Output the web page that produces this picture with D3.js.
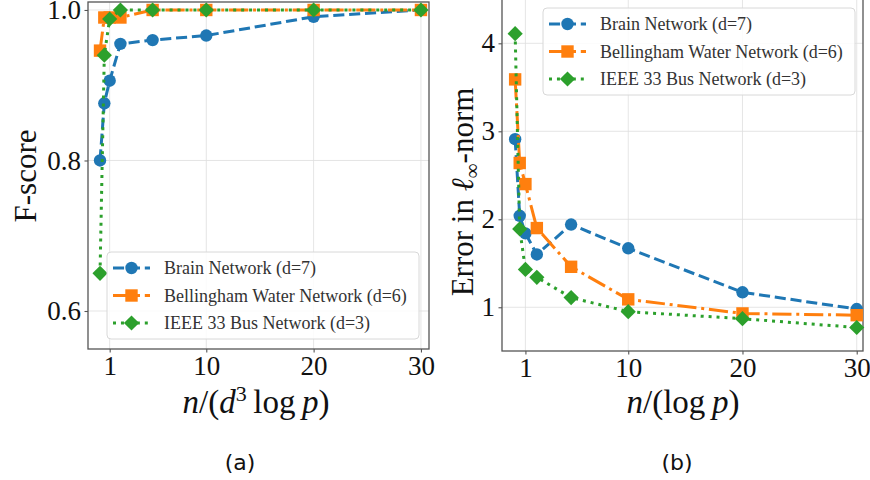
<!DOCTYPE html>
<html>
<head>
    <meta charset="utf-8" />
    <title>F-score and error panels</title>
    <style>
        body { margin: 0; background: #fff; overflow: hidden; }
    </style>
</head>
<body>
    <div id="chart"></div>
    <script src="https://d3js.org/d3.v7.min.js"></script>
    <script>
        // sample sizes (x axis) shared by both panels
        var xVals = [0.1, 0.5, 1, 2, 5, 10, 20, 30];
        var xTicks = [1, 10, 20, 30];

        // panel (a): F-score
        var fBrain = [0.80, 0.876, 0.906, 0.955, 0.96, 0.966, 0.991, 1.0];
        var fWater = [0.946, 0.99, 0.99, 0.99, 1.0, 1.0, 1.0, 1.0];
        var fBus = [0.65, 0.94, 0.988, 1.0, 1.0, 1.0, 1.0, 1.0];
        var fTicks = [0.6, 0.8, 1.0];

        // panel (b): error in l-infinity norm
        var eBrain = [2.91, 2.04, 1.84, 1.60, 1.94, 1.67, 1.17, 0.98];
        var eWater = [3.59, 2.64, 2.40, 1.90, 1.46, 1.09, 0.93, 0.91];
        var eBus = [4.11, 1.89, 1.43, 1.34, 1.11, 0.95, 0.87, 0.77];
        var eTicks = [1, 2, 3, 4];

        var seriesNames = ["Brain Network (d=7)", "Bellingham Water Network (d=6)", "IEEE 33 Bus Network (d=3)"];

        var styles = [
            { color: "#1f77b4", dash: "11.1,4.8", marker: "circle" },
            { color: "#ff7f0e", dash: "19.2,4.8,3,4.8", marker: "square" },
            { color: "#2ca02c", dash: "3,4.95", marker: "diamond" }
        ];

        var serif = "'Liberation Serif', 'Times New Roman', serif";

        var svg = d3.select("#chart").append("svg")
            .attr("width", 870)
            .attr("height", 480);

        function drawMarker(g, type, x, y, color) {
            if (type === "circle") {
                g.append("circle").attr("cx", x).attr("cy", y).attr("r", 6.2).attr("fill", color);
            } else if (type === "square") {
                g.append("rect").attr("x", x - 6.2).attr("y", y - 6.2)
                    .attr("width", 12.4).attr("height", 12.4).attr("fill", color);
            } else {
                var s = 7.6;
                g.append("path")
                    .attr("d", `M${x},${y - s}L${x + s},${y}L${x},${y + s}L${x - s},${y}Z`)
                    .attr("fill", color);
            }
        }

        function drawPanel(opt) {
            var x = d3.scaleLinear().domain(opt.xDomain).range([opt.left, opt.right]);
            var y = d3.scaleLinear().domain(opt.yDomain).range([opt.bottom, opt.top]);
            var g = svg.append("g");

            // grid
            g.selectAll(".gx").data(xTicks).join("line")
                .attr("x1", d => x(d)).attr("x2", d => x(d))
                .attr("y1", opt.top).attr("y2", opt.bottom)
                .attr("stroke", "#dedede").attr("stroke-width", 0.8);
            g.selectAll(".gy").data(opt.yTicks).join("line")
                .attr("x1", opt.left).attr("x2", opt.right)
                .attr("y1", d => y(d)).attr("y2", d => y(d))
                .attr("stroke", "#dedede").attr("stroke-width", 0.8);

            // axes
            var xAxis = g.append("g")
                .attr("transform", `translate(0,${opt.bottom})`)
                .call(d3.axisBottom(x).tickValues(xTicks).tickSize(3.5).tickPadding(3.5).tickFormat(d3.format("d")));
            var yAxis = g.append("g")
                .attr("transform", `translate(${opt.left},0)`)
                .call(d3.axisLeft(y).tickValues(opt.yTicks).tickSize(3.5).tickPadding(3.5).tickFormat(opt.yFormat));
            [xAxis, yAxis].forEach(function (a) {
                a.select(".domain").remove();
                a.selectAll(".tick line").attr("stroke", "#555").attr("stroke-width", 1.1);
                a.selectAll(".tick text")
                    .style("font-family", serif)
                    .style("font-size", "27px")
                    .style("fill", "#111");
            });

            // frame
            g.append("rect")
                .attr("x", opt.left).attr("y", opt.top)
                .attr("width", opt.right - opt.left).attr("height", opt.bottom - opt.top)
                .attr("fill", "none").attr("stroke", "#555").attr("stroke-width", 1.3);

            // series
            var line = d3.line().x(d => x(d[0])).y(d => y(d[1]));
            opt.series.forEach(function (vals, i) {
                var st = styles[i];
                var pts = xVals.map((v, j) => [v, vals[j]]);
                g.append("path")
                    .attr("d", line(pts))
                    .attr("fill", "none")
                    .attr("stroke", st.color)
                    .attr("stroke-width", 3)
                    .attr("stroke-dasharray", st.dash);
                var mg = g.append("g");
                pts.forEach(p => drawMarker(mg, st.marker, x(p[0]), y(p[1]), st.color));
            });

            // legend
            var lg = svg.append("g");
            lg.append("rect")
                .attr("x", opt.legend.x).attr("y", opt.legend.y)
                .attr("width", 312).attr("height", 87).attr("rx", 4)
                .attr("fill", "#fff").attr("fill-opacity", 0.85)
                .attr("stroke", "#d8d8d8");
            seriesNames.forEach(function (name, i) {
                var st = styles[i];
                var ly = opt.legend.y + 16 + i * 27.5;
                var lx = opt.legend.x + 6;
                lg.append("line")
                    .attr("x1", lx).attr("x2", lx + 37)
                    .attr("y1", ly).attr("y2", ly)
                    .attr("stroke", st.color).attr("stroke-width", 3)
                    .attr("stroke-dasharray", st.dash);
                drawMarker(lg, st.marker, lx + 18.5, ly, st.color);
                lg.append("text")
                    .attr("x", lx + 51).attr("y", ly + 6)
                    .style("font-family", serif)
                    .style("font-size", "18px")
                    .style("fill", "#333")
                    .text(name);
            });
        }

        drawPanel({
            left: 88, right: 429, top: 2, bottom: 349,
            xDomain: [-1.02, 30.75], yDomain: [0.5495, 1.0106],
            yTicks: fTicks, yFormat: d3.format(".1f"),
            series: [fBrain, fWater, fBus],
            legend: { x: 107, y: 252 }
        });
        drawPanel({
            left: 502, right: 863, top: -2, bottom: 351,
            xDomain: [-1.05, 30.55], yDomain: [0.503, 4.515],
            yTicks: eTicks, yFormat: d3.format("d"),
            series: [eBrain, eWater, eBus],
            legend: { x: 543, y: 8 }
        });

        // axis titles
        function mathText(x, y, rotate, size) {
            return svg.append("text")
                .attr("transform", `translate(${x},${y})` + (rotate ? " rotate(-90)" : ""))
                .attr("text-anchor", "middle")
                .style("font-family", serif)
                .style("font-size", size + "px")
                .style("fill", "#111");
        }

        mathText(36, 176, true, 31).text("F-score");

        var yr = mathText(473, 192, true, 31);
        yr.append("tspan").text("Error in ");
        yr.append("tspan").style("font-style", "italic").text("\u2113");
        yr.append("tspan").style("font-size", "21px").attr("dy", 6).text("\u221e");
        yr.append("tspan").attr("dy", -6).text("-norm");

        var xl = mathText(256, 413, false, 33);
        xl.append("tspan").style("font-style", "italic").text("n");
        xl.append("tspan").text("/(");
        xl.append("tspan").style("font-style", "italic").text("d");
        xl.append("tspan").style("font-size", "22px").attr("dy", -12).text("3");
        xl.append("tspan").attr("dy", 12).text("\u2009log\u2009");
        xl.append("tspan").style("font-style", "italic").text("p");
        xl.append("tspan").text(")");

        var xr = mathText(683, 413, false, 33);
        xr.append("tspan").style("font-style", "italic").text("n");
        xr.append("tspan").text("/(log\u2009");
        xr.append("tspan").style("font-style", "italic").text("p");
        xr.append("tspan").text(")");

        // panel captions
        [["(a)", 240], ["(b)", 677]].forEach(function (c) {
            svg.append("text").attr("x", c[1]).attr("y", 470)
                .attr("text-anchor", "middle")
                .style("font-family", "'DejaVu Sans', sans-serif")
                .style("font-size", "22px")
                .style("fill", "#111")
                .text(c[0]);
        });
    </script>
</body>
</html>
